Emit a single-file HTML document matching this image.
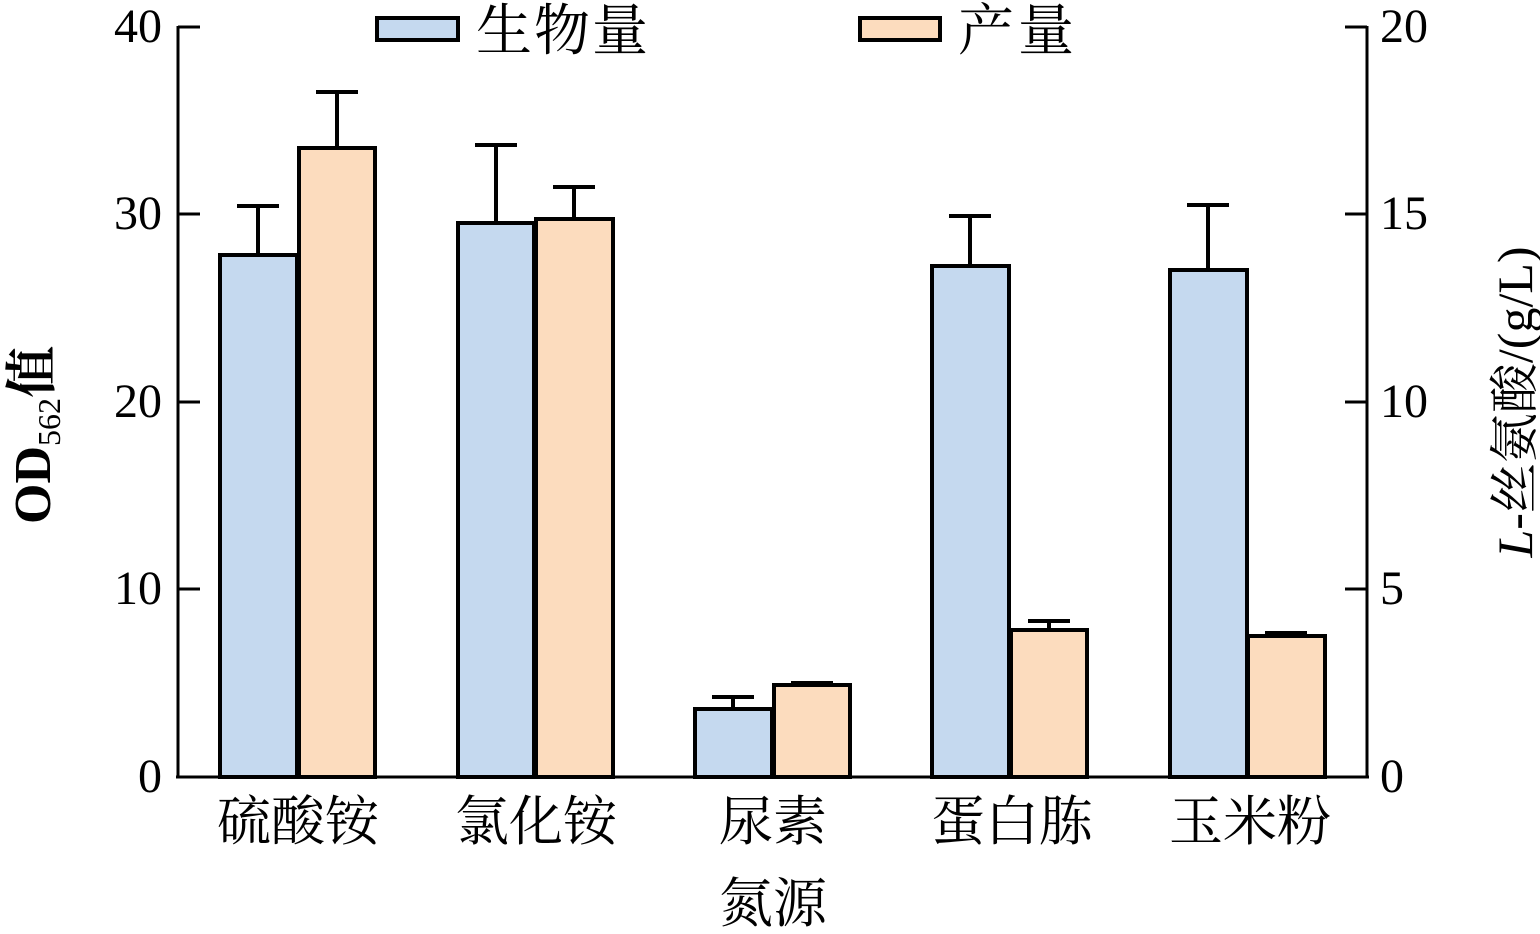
<!DOCTYPE html><html><head><style>body{margin:0;background:#fff}</style></head><body>
<svg width="1540" height="929" xmlns="http://www.w3.org/2000/svg" font-family="Liberation Serif, Noto Serif CJK SC, serif">
<g stroke="#000" stroke-width="3" fill="none">
<line x1="178" y1="26" x2="178" y2="778"/>
<line x1="1367" y1="26" x2="1367" y2="778"/>
<line x1="176" y1="777" x2="1369" y2="777"/>
<path d="M178 27h22M178 214h22M178 402h22M178 589h22M1367 27h-22M1367 214h-22M1367 402h-22M1367 589h-22"/>
</g>
<g stroke="#000" stroke-width="4">
<rect x="220" y="255" width="77" height="522" fill="#c5d9ef"/>
<rect x="299" y="148" width="76" height="629" fill="#fcdcbe"/>
<rect x="458" y="223" width="76" height="554" fill="#c5d9ef"/>
<rect x="536" y="219" width="77" height="558" fill="#fcdcbe"/>
<rect x="695" y="709" width="77" height="68" fill="#c5d9ef"/>
<rect x="774" y="685" width="76" height="92" fill="#fcdcbe"/>
<rect x="932" y="266" width="77" height="511" fill="#c5d9ef"/>
<rect x="1011" y="630" width="76" height="147" fill="#fcdcbe"/>
<rect x="1170" y="270" width="77" height="507" fill="#c5d9ef"/>
<rect x="1248" y="636" width="77" height="141" fill="#fcdcbe"/>
<path fill="none" d="M258 255V206M237 206h42M337 148V92M316 92h42M496 223V145M475 145h42M574 219V187M553 187h42M733 709V697M712 697h42M812 685V683M791 683h42M970 266V216M949 216h42M1049 630V621M1028 621h42M1208 270V205M1187 205h42M1286 636V633M1265 633h42"/>
<rect x="377" y="18" width="81" height="22" fill="#c5d9ef"/>
<rect x="860" y="18" width="80" height="22" fill="#fcdcbe"/>
</g>
<g font-size="48" fill="#000">
<text x="476" y="50" font-size="56" textLength="172">生物量</text><text x="958" y="50" font-size="56" textLength="116">产量</text>
<g text-anchor="end"><text x="162" y="42">40</text><text x="162" y="229">30</text><text x="162" y="417">20</text><text x="162" y="604">10</text><text x="162" y="792">0</text></g>
<text x="1380" y="42">20</text><text x="1380" y="229">15</text><text x="1380" y="417">10</text><text x="1380" y="604">5</text><text x="1380" y="792">0</text>
<g text-anchor="middle" font-size="54"><text x="298" y="840">硫酸铵</text><text x="536" y="840">氯化铵</text><text x="773" y="840">尿素</text><text x="1012" y="840">蛋白胨</text><text x="1250" y="840">玉米粉</text><text x="773" y="922">氮源</text></g>
<text transform="translate(50 435) rotate(-90)" text-anchor="middle" font-size="52" font-weight="bold">OD<tspan font-size="32" font-weight="normal" dy="10">562</tspan><tspan dy="-10">值</tspan></text>
<text transform="translate(1532 402) rotate(-90)" text-anchor="middle" font-size="50"><tspan font-style="italic">L</tspan>-丝氨酸/(g/L)</text>
</g>
</svg></body></html>
